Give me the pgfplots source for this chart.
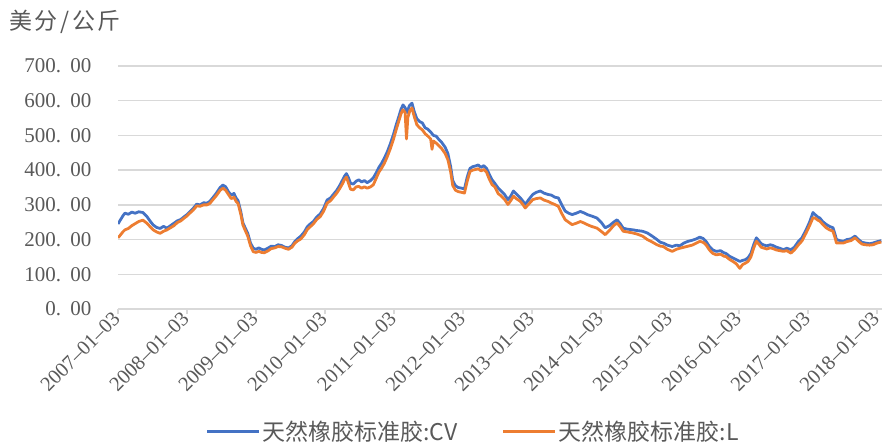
\documentclass[border=0pt]{standalone}
\usepackage{pgfplots}
\pgfplotsset{compat=1.18}
\usepackage{fontspec}
\setmainfont{Liberation Serif}
\newfontfamily\cjk{Noto Sans CJK SC}
\definecolor{cvblue}{HTML}{4472C4}
\definecolor{lorange}{HTML}{ED7D31}
\definecolor{txtgray}{HTML}{595959}
\definecolor{gridgray}{HTML}{D9D9D9}
\newcommand{\yl}[2]{#1.\hspace{0.45em}#2}
\begin{document}
\begin{tikzpicture}
\useasboundingbox (0,0) rectangle (883bp,442bp);
\begin{axis}[
  at={(118bp,133bp)}, anchor=south west,
  scale only axis, width=764bp, height=243bp,
  xmin=2007, xmax=2018.07, ymin=0, ymax=700,
  axis line style={draw=none},
  ymajorgrids, grid style={gridgray, line width=1.5bp},
  ytick={0,100,...,700},
  yticklabels={\yl{0}{00},\yl{100}{00},\yl{200}{00},\yl{300}{00},\yl{400}{00},\yl{500}{00},\yl{600}{00},\yl{700}{00}},
  ytick style={draw=none},
  yticklabel style={font=\fontsize{21bp}{24bp}\selectfont, text=txtgray, xshift=-18bp},
  xtick={2007,2008,...,2018},
  xticklabels={2007--01--03,2008--01--03,2009--01--03,2010--01--03,2011--01--03,2012--01--03,2013--01--03,2014--01--03,2015--01--03,2016--01--03,2017--01--03,2018--01--03},
  tick align=outside, xtick pos=bottom, major tick length=5bp,
  xtick style={gridgray, line width=1.5bp},
  xticklabel style={font=\fontsize{20.5bp}{23bp}\selectfont, text=txtgray, rotate=45, anchor=east, inner sep=2bp},
  legend columns=2,
  legend style={draw=none, fill=none, at={(0.4647,-0.506)}, anchor=center,
    font=\cjk\fontsize{23bp}{27bp}\selectfont, text=txtgray,
    /tikz/every even column/.append style={column sep=42bp}},
  legend image code/.code={\draw[#1, line width=3bp] (0bp,0bp) -- (52bp,0bp);},
  every axis plot/.append style={line width=2.8bp, line join=round},
]
\addplot[cvblue] table {
2007.00 245
2007.03 255
2007.07 268
2007.10 276
2007.15 273
2007.20 279
2007.25 276
2007.30 280
2007.36 278
2007.42 266
2007.47 252
2007.51 242
2007.56 235
2007.61 232
2007.66 238
2007.71 233
2007.76 240
2007.81 247
2007.86 254
2007.91 258
2007.96 266
2008.00 272
2008.04 280
2008.09 290
2008.14 302
2008.19 300
2008.24 306
2008.29 305
2008.33 310
2008.38 322
2008.43 335
2008.48 350
2008.52 357
2008.56 352
2008.60 338
2008.64 328
2008.68 333
2008.71 320
2008.74 312
2008.78 280
2008.81 248
2008.84 235
2008.88 218
2008.92 190
2008.96 175
2009.00 172
2009.04 176
2009.08 172
2009.12 170
2009.17 175
2009.22 181
2009.27 180
2009.32 185
2009.37 183
2009.42 178
2009.47 176
2009.52 182
2009.56 194
2009.60 202
2009.65 210
2009.70 222
2009.74 236
2009.78 244
2009.83 252
2009.88 265
2009.93 274
2009.98 290
2010.03 314
2010.08 320
2010.12 330
2010.17 342
2010.21 355
2010.25 370
2010.28 382
2010.31 390
2010.34 378
2010.37 362
2010.41 360
2010.45 368
2010.49 372
2010.53 366
2010.57 370
2010.61 364
2010.66 370
2010.70 378
2010.74 392
2010.78 408
2010.82 420
2010.86 435
2010.90 452
2010.95 478
2010.99 502
2011.03 530
2011.07 555
2011.10 575
2011.13 588
2011.16 580
2011.19 566
2011.22 585
2011.26 593
2011.29 570
2011.33 548
2011.37 540
2011.41 536
2011.45 522
2011.49 518
2011.53 510
2011.57 500
2011.61 498
2011.65 488
2011.69 480
2011.74 466
2011.78 448
2011.82 410
2011.85 370
2011.89 355
2011.93 350
2011.98 348
2012.02 346
2012.06 380
2012.10 405
2012.14 410
2012.18 412
2012.22 415
2012.26 408
2012.30 413
2012.34 405
2012.38 388
2012.42 372
2012.46 362
2012.51 348
2012.55 340
2012.60 330
2012.65 315
2012.69 325
2012.73 340
2012.77 332
2012.83 320
2012.87 310
2012.90 301
2012.95 315
2013.01 330
2013.06 336
2013.12 340
2013.17 334
2013.23 330
2013.28 328
2013.33 322
2013.38 320
2013.43 300
2013.48 282
2013.53 276
2013.58 272
2013.64 276
2013.70 281
2013.75 277
2013.80 272
2013.86 268
2013.94 262
2014.00 250
2014.06 234
2014.12 240
2014.18 250
2014.23 257
2014.28 245
2014.32 233
2014.38 230
2014.46 228
2014.52 226
2014.60 224
2014.67 219
2014.74 210
2014.81 200
2014.86 192
2014.90 190
2014.96 184
2015.03 180
2015.09 184
2015.14 182
2015.20 190
2015.26 195
2015.32 198
2015.38 202
2015.43 207
2015.48 203
2015.52 195
2015.57 180
2015.62 170
2015.67 166
2015.73 168
2015.78 162
2015.81 160
2015.86 152
2015.91 147
2015.96 142
2016.01 137
2016.05 140
2016.09 142
2016.13 148
2016.17 160
2016.21 185
2016.25 205
2016.28 198
2016.32 188
2016.35 185
2016.40 182
2016.45 185
2016.49 183
2016.54 178
2016.59 175
2016.64 171
2016.69 175
2016.75 171
2016.80 178
2016.86 195
2016.91 205
2016.97 228
2017.02 250
2017.07 278
2017.10 272
2017.14 265
2017.17 262
2017.21 252
2017.26 244
2017.31 238
2017.36 234
2017.39 215
2017.41 200
2017.46 197
2017.51 195
2017.56 200
2017.62 202
2017.68 210
2017.73 200
2017.78 192
2017.83 190
2017.89 188
2017.94 190
2018.00 194
2018.06 197
};
\addlegendentry{天然橡胶标准胶:CV}
\addplot[lorange] table {
2007.00 205
2007.03 212
2007.07 222
2007.10 228
2007.15 232
2007.20 240
2007.25 246
2007.30 252
2007.36 256
2007.42 247
2007.47 236
2007.51 228
2007.56 222
2007.61 218
2007.66 224
2007.71 228
2007.76 234
2007.81 240
2007.86 249
2007.91 254
2007.96 262
2008.00 268
2008.04 276
2008.09 285
2008.14 297
2008.19 296
2008.24 300
2008.29 300
2008.33 304
2008.38 316
2008.43 328
2008.48 342
2008.52 348
2008.56 342
2008.60 330
2008.64 318
2008.68 322
2008.71 310
2008.74 304
2008.78 272
2008.81 242
2008.84 228
2008.88 210
2008.92 182
2008.96 165
2009.00 163
2009.04 166
2009.08 163
2009.12 162
2009.17 167
2009.22 174
2009.27 176
2009.32 180
2009.37 179
2009.42 175
2009.47 172
2009.52 178
2009.56 189
2009.60 196
2009.65 202
2009.70 214
2009.74 228
2009.78 236
2009.83 245
2009.88 258
2009.93 266
2009.98 282
2010.03 305
2010.08 312
2010.12 322
2010.17 334
2010.21 346
2010.25 360
2010.28 372
2010.31 380
2010.34 362
2010.37 345
2010.41 343
2010.45 352
2010.49 353
2010.53 348
2010.57 352
2010.61 348
2010.66 352
2010.70 358
2010.74 376
2010.78 394
2010.82 406
2010.86 420
2010.90 438
2010.95 464
2010.99 488
2011.03 516
2011.07 542
2011.10 562
2011.13 574
2011.16 566
2011.18 490
2011.20 552
2011.23 572
2011.26 579
2011.29 556
2011.33 531
2011.37 522
2011.41 516
2011.45 505
2011.49 498
2011.53 490
2011.55 460
2011.57 484
2011.61 478
2011.65 470
2011.69 462
2011.74 448
2011.78 430
2011.82 395
2011.85 356
2011.89 342
2011.93 338
2011.98 336
2012.02 334
2012.06 368
2012.10 396
2012.14 400
2012.18 402
2012.22 404
2012.26 398
2012.30 402
2012.34 394
2012.38 374
2012.42 358
2012.46 352
2012.51 332
2012.55 326
2012.60 316
2012.65 301
2012.69 312
2012.73 325
2012.77 318
2012.83 310
2012.87 300
2012.90 291
2012.95 302
2013.01 315
2013.06 318
2013.12 320
2013.17 314
2013.23 310
2013.28 305
2013.33 301
2013.38 296
2013.43 275
2013.48 257
2013.53 250
2013.58 243
2013.64 247
2013.70 252
2013.75 248
2013.80 243
2013.86 238
2013.94 233
2014.00 224
2014.06 214
2014.12 226
2014.18 240
2014.23 248
2014.28 236
2014.32 224
2014.38 222
2014.46 219
2014.52 216
2014.60 210
2014.67 200
2014.74 193
2014.81 185
2014.86 181
2014.90 180
2014.96 172
2015.03 166
2015.09 172
2015.14 175
2015.20 178
2015.26 181
2015.32 184
2015.38 190
2015.43 195
2015.48 192
2015.52 185
2015.57 170
2015.62 160
2015.67 156
2015.73 158
2015.78 152
2015.81 151
2015.86 143
2015.91 137
2015.96 130
2016.01 117
2016.05 128
2016.09 132
2016.13 137
2016.17 150
2016.21 175
2016.25 195
2016.28 188
2016.32 178
2016.35 176
2016.40 173
2016.45 176
2016.49 174
2016.54 170
2016.59 168
2016.64 166
2016.69 168
2016.75 161
2016.80 170
2016.86 185
2016.91 196
2016.97 219
2017.02 240
2017.07 263
2017.10 262
2017.14 256
2017.17 253
2017.21 244
2017.26 234
2017.31 228
2017.36 224
2017.39 205
2017.41 190
2017.46 190
2017.51 190
2017.56 194
2017.62 197
2017.68 205
2017.73 195
2017.78 187
2017.83 185
2017.89 184
2017.94 185
2018.00 190
2018.06 193
};
\addlegendentry{天然橡胶标准胶:L}
\end{axis}
\node[anchor=west, inner sep=0pt, text=txtgray, font=\cjk\fontsize{23bp}{27bp}\selectfont] at (9bp,420bp) {美\kern2bp 分\kern3bp /\kern3bp 公\kern2bp 斤};
\end{tikzpicture}
\end{document}
